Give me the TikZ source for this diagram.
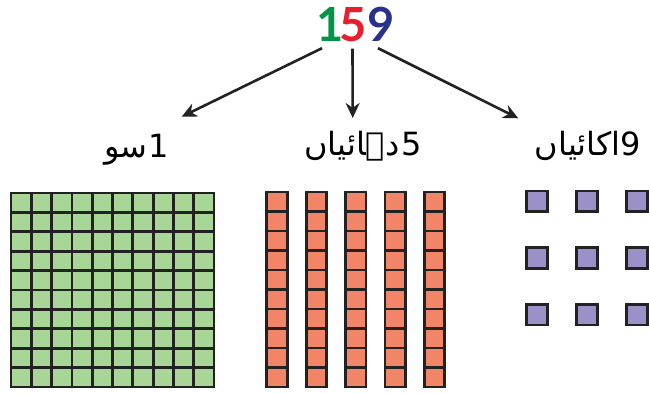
\documentclass[tikz,border=0pt]{standalone}
\usepackage{fontspec}
\usetikzlibrary{positioning,arrows.meta}
\newfontfamily\numfont{Lato}
\newfontfamily\urdufont[Script=Arabic]{DejaVu Sans}
\TeXXeTstate=1
\definecolor{numgreen}{RGB}{0,150,70}
\definecolor{numred}{RGB}{230,30,45}
\definecolor{numblue}{RGB}{40,50,140}
\definecolor{hundredgreen}{RGB}{168,214,150}
\definecolor{tenorange}{RGB}{242,132,104}
\definecolor{onepurple}{RGB}{155,145,200}
\definecolor{edge}{RGB}{34,34,34}

\begin{document}
\begin{tikzpicture}[x=1pt,y=-1pt,
  cube/.style={draw=edge, line width=2.8pt},
  arr/.style={-{Stealth[length=15pt,width=14pt]}, line width=2.6pt, draw=edge},
  digit/.style={inner sep=0pt, anchor=base, font=\numfont\bfseries\fontsize{47}{48}\selectfont},
  lbl/.style={inner sep=0pt, anchor=base east, font=\urdufont\fontsize{32}{33}\selectfont}]
	%% some definitions
	\def\hw{20.3} % hundred cell width
	\def\hh{19.4} % hundred cell height
	\def\tw{20.5} % ten cell width
	\def\th{19.5} % ten cell height
	\useasboundingbox (0,0) rectangle (649,394);

	% the number
	\node[digit, text=numgreen] (d1) at (330,41) {1};
	\node[digit, text=numred] (d5) at (353.5,41) {5};
	\node[digit, text=numblue] (d9) at (381,41) {9};

	% labels
	\node[lbl] (hundred) at (169,157) {\beginR 1\kern1pt سو\endR};
	\node[lbl] (tens) at (422,155) {\beginR 5\kern2pt دہائیاں\endR};
	\node[lbl] (ones) at (641,155) {\beginR 9اکائیاں\endR};

	\coordinate (tipH) at (181.7,116.7);
	\coordinate (tipT) at (352.7,118);
	\coordinate (tipO) at (518.3,118.3);
	\begin{scope}[arr]
	  \draw ([xshift=-8pt,yshift=-7pt]d1.south) -- (tipH);
	  \draw ([xshift=-1pt,yshift=-7pt]d5.south) -- (tipT);
	  \draw ([xshift=-3pt,yshift=-7pt]d9.south) -- (tipO);
	\end{scope}

	% hundred square
	\foreach \i in {0,...,9}{
	  \foreach \j in {0,...,9}{
	    \draw[cube, fill=hundredgreen] (11+\i*\hw,193+\j*\hh) rectangle ++(\hw,\hh);
	  }
	}

	% five rods of ten
	\foreach \r in {0,...,4}{
	  \foreach \j in {0,...,9}{
	    \draw[cube, fill=tenorange] (266.7+\r*39.4,192+\j*\th) rectangle ++(\tw,\th);
	  }
	}

	% nine ones
	\foreach \c in {0,1,2}{
	  \foreach \rr in {0,1,2}{
	    \draw[cube, fill=onepurple] (526.7+\c*50,191+\rr*56.7) rectangle ++(20.5,20.5);
	  }
	}
\end{tikzpicture}
\end{document}
